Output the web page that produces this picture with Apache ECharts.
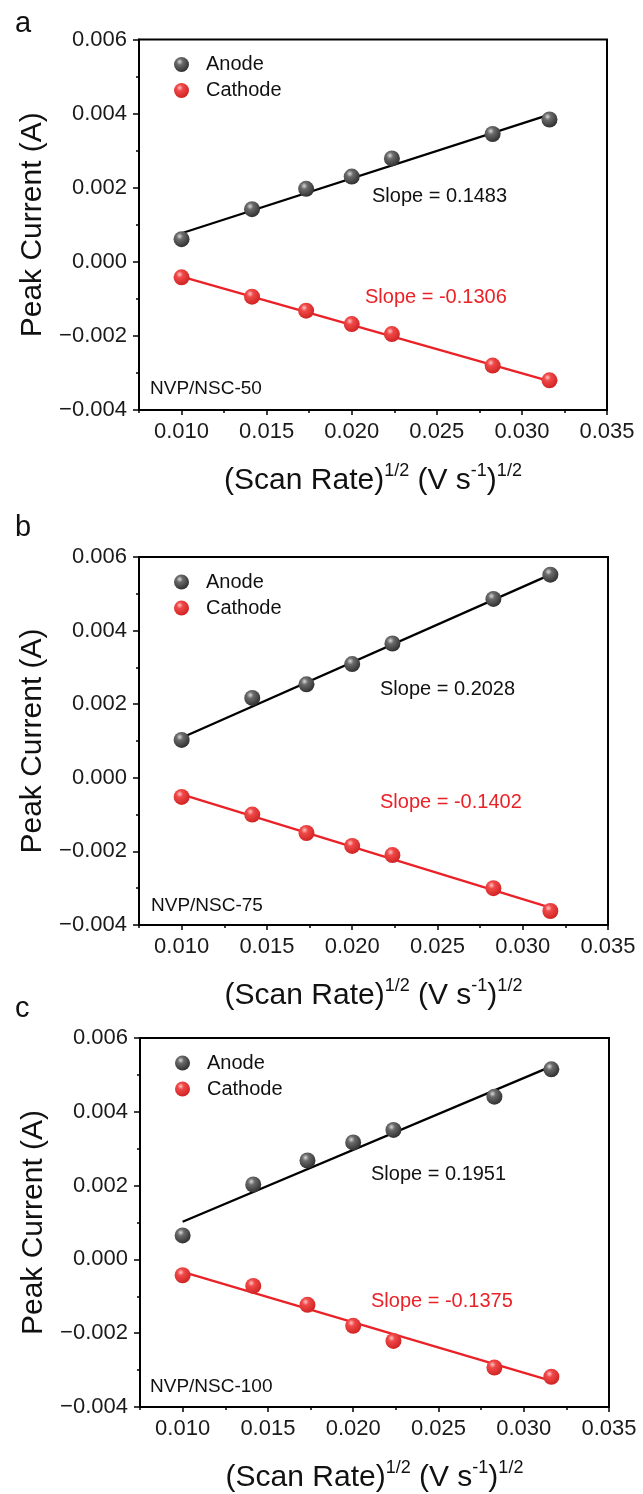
<!DOCTYPE html>
<html>
<head>
<meta charset="utf-8">
<script src="https://cdn.jsdelivr.net/npm/echarts@6/dist/echarts.min.js"></script>
<style>
html,body{margin:0;padding:0;background:#fff;}
#chart{width:643px;height:1494px;}
</style>
</head>
<body>
<div id="chart"></div>
<script>
// ---------- DATA ----------
const xValues = [0.0100, 0.01414, 0.01732, 0.0200, 0.02236, 0.02828, 0.03162];

const anodeA   = [0.00061, 0.00142, 0.00197, 0.00230, 0.00279, 0.00345, 0.00384];
const cathodeA = [-0.00042, -0.00094, -0.00132, -0.00168, -0.00195, -0.00280, -0.00320];
const anodeB   = [0.00103, 0.00217, 0.00254, 0.00309, 0.00365, 0.00486, 0.00552];
const cathodeB = [-0.00052, -0.00100, -0.00150, -0.00185, -0.00210, -0.00300, -0.00362];
const anodeC   = [0.00065, 0.00203, 0.00268, 0.00317, 0.00351, 0.00441, 0.00515];
const cathodeC = [-0.00043, -0.00072, -0.00123, -0.00180, -0.00221, -0.00293, -0.00318];

// fitted line end points [x, y]
const fitAnodeA   = [[0.0100, 0.00077], [0.03162, 0.00397]];
const fitCathodeA = [[0.0100, -0.00040], [0.03162, -0.00322]];
const fitAnodeB   = [[0.0100, 0.00109], [0.03162, 0.00552]];
const fitCathodeB = [[0.0100, -0.00045], [0.03162, -0.00353]];
const fitAnodeC   = [[0.0100, 0.00102], [0.03162, 0.00523]];
const fitCathodeC = [[0.0100, -0.00034], [0.03162, -0.00329]];

const panelLetters = ['a', 'b', 'c'];
const sampleNames = ['NVP/NSC-50', 'NVP/NSC-75', 'NVP/NSC-100'];
const anodeSlopes = ['Slope = 0.1483', 'Slope = 0.2028', 'Slope = 0.1951'];
const cathodeSlopes = ['Slope = -0.1306', 'Slope = -0.1402', 'Slope = -0.1375'];

const xTickLabels = [0.010, 0.015, 0.020, 0.025, 0.030, 0.035];
const xMinorTicks = [0.0075, 0.0125, 0.0175, 0.0225, 0.0275, 0.0325];
const xMin = 0.0075, xMax = 0.035;
const yMin = -0.004, yMax = 0.006, yStep = 0.002;

// ---------- LAYOUT ----------
const grids = [
  {left: 139, top: 39.5, width: 468, height: 370.5},
  {left: 139, top: 557, width: 469, height: 368},
  {left: 140, top: 1038, width: 469, height: 370}
];
const anodeTextPos   = [[233, 158], [241, 133], [231, 137]];
const cathodeTextPos = [[226, 258.5], [241, 246], [231, 264]];
const sampleTextPos  = [[11, 350], [12, 349], [10, 349]];
const letterPos = [[23, 25], [23, 529], [23, 1010]];

const FONT = '"Liberation Sans", Arial, Helvetica, sans-serif';
const RED = '#ea2228';

const anodeColor = {
  type: 'radial', x: 0.38, y: 0.32, r: 0.7,
  colorStops: [
    {offset: 0, color: '#d8d8d8'},
    {offset: 0.3, color: '#6b6b6b'},
    {offset: 1, color: '#2f2f2f'}
  ]
};
const cathodeColor = {
  type: 'radial', x: 0.38, y: 0.32, r: 0.7,
  colorStops: [
    {offset: 0, color: '#ffc4c4'},
    {offset: 0.3, color: '#f04848'},
    {offset: 1, color: '#cf2323'}
  ]
};

const anodes = [anodeA, anodeB, anodeC];
const cathodes = [cathodeA, cathodeB, cathodeC];
const fitAnodes = [fitAnodeA, fitAnodeB, fitAnodeC];
const fitCathodes = [fitCathodeA, fitCathodeB, fitCathodeC];

function zip(xs, ys) { return xs.map((x, i) => [x, ys[i]]); }
function yFmt(v) {
  const s = Math.abs(v).toFixed(3);
  return v < -1e-12 ? '\u2212' + s : s;
}

const option = {
  backgroundColor: '#fff',
  animation: false,
  textStyle: {fontFamily: FONT},
  grid: [], xAxis: [], yAxis: [], series: [], legend: [], graphic: []
};

grids.forEach((g, p) => {
  option.grid.push({
    left: g.left, top: g.top, width: g.width, height: g.height,
    show: true, borderColor: '#000', borderWidth: 2, backgroundColor: 'transparent',
    containLabel: false
  });
  // main x axis
  option.xAxis.push({
    type: 'value', gridIndex: p, min: xMin, max: xMax, position: 'bottom',
    splitLine: {show: false},
    axisLine: {show: true, onZero: false, lineStyle: {color: '#000', width: 2}},
    axisTick: {show: true, inside: false, length: 5, lineStyle: {color: '#000', width: 1.5},
               customValues: xTickLabels},
    axisLabel: {show: true, customValues: xTickLabels, formatter: v => v.toFixed(3),
                fontSize: 22, color: '#1a1a1a', margin: 11, fontFamily: FONT},
    name: '{t|(Scan Rate)}{s|1/2}{t| (V s}{s|-1}{t|)}{s|1/2}',
    nameLocation: 'middle', nameGap: 52,
    nameTextStyle: {
      rich: {
        t: {fontSize: 30, color: '#111', fontFamily: FONT, verticalAlign: 'bottom', lineHeight: 34},
        s: {fontSize: 18, color: '#111', fontFamily: FONT, verticalAlign: 'top', lineHeight: 34, padding: [0, 0, 14, 0]}
      }
    }
  });
  // minor x ticks axis
  option.xAxis.push({
    type: 'value', gridIndex: p, min: xMin, max: xMax, position: 'bottom',
    splitLine: {show: false},
    axisLine: {show: false, onZero: false},
    axisTick: {show: true, inside: false, length: 3, lineStyle: {color: '#000', width: 1.5},
               customValues: xMinorTicks},
    axisLabel: {show: false}
  });
  option.yAxis.push({
    type: 'value', gridIndex: p, min: yMin, max: yMax, interval: yStep,
    splitLine: {show: false},
    axisLine: {show: true, onZero: false, lineStyle: {color: '#000', width: 2}},
    axisTick: {show: true, inside: false, length: 6, lineStyle: {color: '#000', width: 1.5}},
    minorTick: {show: true, splitNumber: 2, length: 3, lineStyle: {color: '#000', width: 1.5}},
    axisLabel: {formatter: yFmt, fontSize: 22, color: '#1a1a1a', margin: 12, fontFamily: FONT},
    name: 'Peak Current (A)', nameLocation: 'middle', nameGap: 90, nameRotate: 90,
    nameTextStyle: {fontSize: 30, color: '#111', fontFamily: FONT}
  });

  const xi = p * 2;
  option.series.push({
    type: 'line', name: 'fitA' + p, xAxisIndex: xi, yAxisIndex: p,
    data: fitAnodes[p], symbol: 'none', silent: true, z: 2,
    lineStyle: {color: '#000', width: 2.3}
  });
  option.series.push({
    type: 'line', name: 'fitC' + p, xAxisIndex: xi, yAxisIndex: p,
    data: fitCathodes[p], symbol: 'none', silent: true, z: 2,
    lineStyle: {color: RED, width: 2.3}
  });
  option.series.push({
    type: 'scatter', name: 'Anode', xAxisIndex: xi, yAxisIndex: p,
    data: zip(xValues, anodes[p]), symbol: 'circle', symbolSize: 16, z: 3,
    itemStyle: {color: anodeColor, opacity: 1}
  });
  option.series.push({
    type: 'scatter', name: 'Cathode', xAxisIndex: xi, yAxisIndex: p,
    data: zip(xValues, cathodes[p]), symbol: 'circle', symbolSize: 16, z: 3,
    itemStyle: {color: cathodeColor, opacity: 1}
  });

  option.legend.push({
    data: ['Anode', 'Cathode'], orient: 'vertical',
    left: g.left + 30, top: g.top + 10,
    itemWidth: 15, itemHeight: 15, itemGap: 6, icon: 'circle',
    selectedMode: false,
    textStyle: {fontSize: 20, color: '#111', fontFamily: FONT, padding: [0, 0, 0, 12]}
  });

  option.graphic.push({
    type: 'text', left: g.left + anodeTextPos[p][0], top: g.top + anodeTextPos[p][1] - 11,
    style: {text: anodeSlopes[p], fontSize: 20, fill: '#111', fontFamily: FONT}
  });
  option.graphic.push({
    type: 'text', left: g.left + cathodeTextPos[p][0], top: g.top + cathodeTextPos[p][1] - 11,
    style: {text: cathodeSlopes[p], fontSize: 20, fill: RED, fontFamily: FONT}
  });
  option.graphic.push({
    type: 'text', left: g.left + sampleTextPos[p][0], top: g.top + sampleTextPos[p][1] - 10,
    style: {text: sampleNames[p], fontSize: 19, fill: '#111', fontFamily: FONT}
  });
  option.graphic.push({
    type: 'text', left: letterPos[p][0] - 8, top: letterPos[p][1] - 16,
    style: {text: panelLetters[p], fontSize: 29, fill: '#111', fontFamily: FONT}
  });
});

const chart = echarts.init(document.getElementById('chart'), null, {renderer: 'canvas', width: 643, height: 1494});
chart.setOption(option);
</script>
</body>
</html>
